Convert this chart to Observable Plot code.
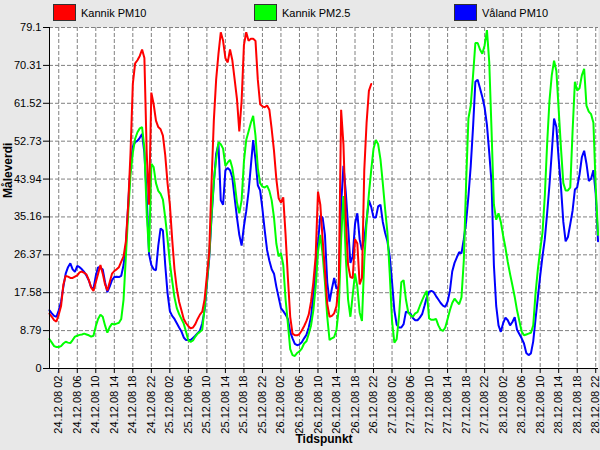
<!DOCTYPE html>
<html><head><meta charset="utf-8">
<script src="https://cdn.jsdelivr.net/npm/d3@7"></script>
<script src="https://cdn.jsdelivr.net/npm/@observablehq/plot@0.6"></script>
<style>
html,body{margin:0;padding:0;background:#e8e8e8;font-family:"Liberation Sans",Arial,sans-serif;width:600px;height:450px;overflow:hidden}
#legend{position:relative;height:22px;width:600px}
.item{position:absolute;top:4px;height:17px;display:flex;align-items:center;font-size:11px;color:#000}
.sw{width:23px;height:17px;border:1px solid #333;box-sizing:border-box;margin-right:5px}
#chart svg{display:block}
</style></head><body>
<div id="legend"></div>
<div id="chart"></div>
<script>
// Series names / colours
const seriesNames = ["Kannik PM10", "Kannik PM2.5", "Våland PM10"];
const seriesColors = ["#ff0000", "#00ff00", "#0000ff"];

// Half-hourly values, starting 24.12.08 00:00
const startHour = 0;
const stepHours = 0.5;

const kannikPM10 = [
  12.7, 12, 11.2, 10.9, 12.5, 14.5, 19.5, 21.5, 21.3, 21,
  21, 21.3, 21.6, 22.3, 22.5, 22.2, 21.8, 20.5, 18.8, 18,
  20, 22, 24, 22, 19.5, 18.1, 20, 22, 22.6, 23,
  23.5, 24.8, 26, 29.5, 38, 50, 66, 70.8, 71.5, 72.5,
  74, 72, 50, 38, 64, 61.3, 57.5, 56, 55.5, 54,
  49.5, 43, 38, 30, 23, 18.5, 15.5, 13.5, 11.5, 10.5,
  9.8, 9.3, 9.5, 10.3, 11.5, 12.5, 13.2, 16, 21.5, 27,
  43, 57.5, 67, 73, 78, 76, 72, 71, 74, 71.5,
  67, 62.5, 55, 62, 75, 78, 76, 76.5, 76.5, 76,
  67, 61.3, 60.8, 60.6, 61, 60, 55.5, 50.5, 44, 39.5,
  38.5, 39.7, 31, 21, 12, 8.1, 7.7, 7.7, 8, 8.8,
  9.8, 11, 12.5, 15.5, 20, 26, 41, 38, 30, 22.8,
  15, 12, 12.2, 12.8, 14.5, 20, 60, 52, 35, 24,
  21.2, 21, 30, 29, 19.5, 21, 46, 57, 64.4, 66];

const kannikPM25 = [
  6.8, 6, 5.2, 5, 5, 5.2, 5.8, 6.2, 6, 5.9,
  6.6, 7.4, 7.6, 7.8, 7.9, 8.1, 7.9, 7.7, 7.4, 7.6,
  9.8, 11.5, 12.5, 12, 10, 8.3, 9.6, 10.4, 10.2, 10.4,
  10.6, 11.5, 16, 26, 36, 45, 50, 53.3, 54.8, 55.7,
  56, 51, 36, 27, 47.5, 46.7, 43, 41.2, 40.5, 39.2,
  35, 30, 24.5, 20.4, 16.5, 14, 12.6, 11.5, 10.4, 8.5,
  6.5, 6.2, 6.5, 7.4, 8.1, 8.5, 9, 14, 20, 26,
  35.5, 43.5, 48.5, 52.5, 52, 51, 47, 47.8, 48.4, 46.5,
  43, 38.5, 36, 39, 48, 53, 55, 57, 58.6, 54,
  46.5, 43, 42.2, 42, 42.4, 41.2, 39, 35, 29, 26,
  26.8, 24, 16, 10.4, 4.5, 3.1, 2.9, 3.6, 4, 4.6,
  5.8, 6.3, 8, 10, 13.5, 19, 27, 31, 26.5, 20,
  12, 6.6, 7, 7.3, 9, 14, 30, 40, 26, 16,
  12, 17, 22, 19, 13, 11, 25, 34, 40.5, 46,
  51, 53, 52, 48.5, 43, 37, 31.5, 22, 11, 6,
  6.8, 12, 20, 20.5, 16, 13, 12.3, 12, 12.8, 13.1,
  14.5, 15.8, 17, 18, 11.6, 11.3, 11.3, 11.5, 10, 9,
  8.7, 9.5, 11.5, 13.5, 15.2, 16.2, 15.5, 14.9, 16.5, 25,
  43, 58, 61, 68, 75.5, 75.5, 74, 73, 75, 78.5,
  71, 55, 38, 34.5, 36, 34, 30.8, 28, 24.7, 21.9,
  19.3, 16.6, 13.5, 11, 8.6, 7.7, 7.9, 8.1, 8.3, 10,
  17.5, 23, 27.5, 31.5, 40, 52, 62, 68, 71.4, 69,
  60, 51, 43, 41.3, 41.3, 42, 55, 66.5, 64.5, 65,
  68, 69.5, 61, 59.6, 59, 57, 42, 31];

const valandPM10 = [
  13.5, 12.8, 12.2, 12, 13.5, 15.5, 19, 22, 23.5, 24.4,
  23, 22.4, 23.8, 23.5, 23, 22.4, 21.5, 20.4, 18.8, 18.5,
  21.5, 23.5, 23.3, 23, 20, 17.7, 19, 20.5, 21.2, 21.3,
  21.2, 21.5, 24, 28.5, 38, 47, 51.5, 52.5, 52.8, 53.5,
  54.4, 50, 40, 26.6, 24, 23, 22.8, 28.5, 32.5, 32,
  24, 17.5, 13.3, 12.2, 11.5, 10.5, 9.5, 8.6, 7.2, 6.6,
  6.6, 6.6, 7.1, 7.6, 8.2, 8.8, 10.5, 13.5, 19.5, 25.5,
  35, 43, 49.8, 52, 39, 38, 46, 46.5, 46, 44.3,
  39.5, 35, 31, 28.5, 33, 36.5, 41, 47, 53, 48.5,
  42.5, 41.3, 37, 32, 27.5, 25, 23, 22, 19, 16.5,
  14, 13.3, 12.5, 11.5, 8.5, 7, 5.7, 5.4, 5.6, 6.1,
  7, 7.8, 9.5, 12, 17, 23, 29, 35.5, 35, 31,
  20, 15.5, 18.5, 21, 18.5, 19, 38, 47, 41, 33,
  24.5, 26, 33.5, 36, 30, 27.5, 30, 34.5, 39, 37.5,
  35, 35, 37.6, 38, 34, 31.5, 29.5, 26, 20, 13.5,
  10.2, 9.5, 9.5, 10.3, 13.2, 13, 12.7, 11.7, 11.2, 11.2,
  11.8, 12.6, 14.5, 16.5, 17.8, 18, 17.7, 16.8, 16, 15.2,
  14.6, 14.3, 15.5, 18, 22.5, 24.5, 25.8, 27, 26.7, 30,
  34, 40, 47, 56, 66.5, 67, 65, 63, 60.5, 56.5,
  50, 43, 24, 14.5, 10, 8.5, 10.5, 11.8, 11.2, 10,
  10.8, 11.9, 9, 8, 7, 5.8, 3.6, 3.1, 3.5, 6.3,
  11.5, 16.5, 21.5, 26, 30, 36, 42.5, 50, 58, 56,
  48.5, 42, 34, 29.5, 30.5, 33.5, 36.6, 41.5, 42, 45,
  49, 50.5, 47.5, 43.5, 44, 46, 40.5, 29.5];

// Axis ticks
const yTicks = [0, 8.79, 17.58, 26.37, 35.16, 43.94, 52.73, 61.52, 70.31, 79.1];
const yTickLabels = ["0", "8.79", "17.58", "26.37", "35.16", "43.94", "52.73", "61.52", "70.31", "79.1"];
const xTickHours = [2, 6, 10, 14, 18, 22, 26, 30, 34, 38, 42, 46, 50, 54, 58, 62, 66, 70, 74, 78, 82, 86, 90, 94, 98, 102, 106, 110, 114, 118];
const xTickLabels = ["24.12.08 02", "24.12.08 06", "24.12.08 10", "24.12.08 14", "24.12.08 18", "24.12.08 22",
  "25.12.08 02", "25.12.08 06", "25.12.08 10", "25.12.08 14", "25.12.08 18", "25.12.08 22",
  "26.12.08 02", "26.12.08 06", "26.12.08 10", "26.12.08 14", "26.12.08 18", "26.12.08 22",
  "27.12.08 02", "27.12.08 06", "27.12.08 10", "27.12.08 14", "27.12.08 18", "27.12.08 22",
  "28.12.08 02", "28.12.08 06", "28.12.08 10", "28.12.08 14", "28.12.08 18", "28.12.08 22"];
const xDomain = [0, 118.6];
const yDomain = [0, 79.1];

// Legend
const legend = document.getElementById("legend");
const legendLeft = [53, 254, 454];
seriesNames.forEach((name, i) => {
  const it = document.createElement("div");
  it.className = "item";
  it.style.left = legendLeft[i] + "px";
  const sw = document.createElement("div");
  sw.className = "sw";
  sw.style.background = seriesColors[i];
  const tx = document.createElement("span");
  tx.textContent = name;
  it.appendChild(sw); it.appendChild(tx);
  legend.appendChild(it);
});

// Tidy rows (drawn in reverse order so the first series is on top)
const seriesArrays = [kannikPM10, kannikPM25, valandPM10];
const rows = [];
for (let s = seriesArrays.length - 1; s >= 0; s--) {
  seriesArrays[s].forEach((v, i) => rows.push({hour: startHour + i * stepHours, value: v, series: seriesNames[s]}));
}

const grid = {stroke: "#808080", strokeWidth: 1, strokeDasharray: "4,2"};

const chart = Plot.plot({
  width: 600,
  height: 428,
  marginTop: 5,
  marginBottom: 82,
  marginLeft: 49,
  marginRight: 2,
  style: {background: "#e8e8e8", fontFamily: "'Liberation Sans', Arial, sans-serif", fontSize: "11px", color: "#000"},
  x: {domain: xDomain, axis: null},
  y: {domain: yDomain, axis: null},
  color: {domain: seriesNames, range: seriesColors},
  marks: [
    Plot.frame({fill: "white", stroke: "none"}),
    Plot.ruleY(yTicks.filter(d => d > 0), grid),
    Plot.ruleX(xTickHours, grid),
    Plot.line(rows, {x: "hour", y: "value", z: "series", stroke: "series", strokeWidth: 2, strokeLinejoin: "miter"}),
    Plot.ruleX([0], {stroke: "#000", strokeWidth: 1}),
    Plot.ruleY([0], {stroke: "#000", strokeWidth: 1}),
    Plot.axisY(yTicks, {tickFormat: d => yTickLabels[yTicks.indexOf(d)], tickSize: 6, tickPadding: 2, fontSize: 11, stroke: "#000", fill: "#000", label: null}),
    Plot.axisX(xTickHours, {tickFormat: d => xTickLabels[xTickHours.indexOf(d)], tickRotate: -90, tickSize: 5, tickPadding: 2, fontSize: 11, stroke: "#000", fill: "#000", label: null}),
    Plot.text(["Måleverdi"], {frameAnchor: "left", dx: -41, rotate: -90, fontWeight: "bold", fontSize: 12, fill: "#000"}),
    Plot.text(["Tidspunkt"], {frameAnchor: "bottom", dy: 74, fontWeight: "bold", fontSize: 12, fill: "#000"})
  ]
});
document.getElementById("chart").appendChild(chart);
</script>
</body></html>
